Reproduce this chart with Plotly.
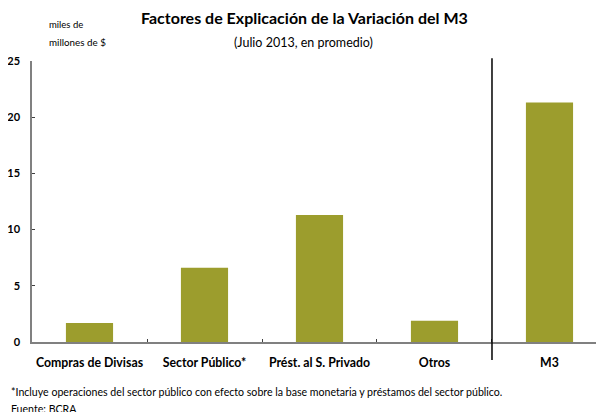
import plotly.graph_objects as go

categorias = ["Compras de Divisas", "Sector Público*", "Prést. al S. Privado", "Otros", "M3"]
valores = [1.7, 6.6, 11.3, 1.9, 21.3]
ticks_y = [0, 5, 10, 15, 20, 25]

fuente = "Lato"

fig = go.Figure()
fig.add_trace(go.Bar(
    x=categorias,
    y=valores,
    marker=dict(color="#9c9d2d", line=dict(width=0)),
    width=0.41,
))

# linea vertical que separa M3
fig.add_shape(type="line", xref="x", yref="paper",
              x0=3.5, x1=3.5, y0=-0.064, y1=1.01,
              line=dict(color="black", width=1.5))

# la pagina deja 8px de margen, por eso la figura es 596x404
fig.update_layout(
    width=596, height=404,
    margin=dict(l=24, r=0, t=53, b=70, autoexpand=False),
    paper_bgcolor="white", plot_bgcolor="white",
    showlegend=False,
    font=dict(family=fuente, color="black"),
    annotations=[
        dict(text="<b>Factores de Explicación de la Variación del M3</b>",
             x=304, y=18, showarrow=False, font=dict(size=16)),
        dict(text="(Julio 2013, en promedio)", x=303, y=42, showarrow=False,
             font=dict(size=12.5)),
        dict(text="miles de", x=47, y=25, showarrow=False, font=dict(size=9.5)),
        dict(text="millones de $", x=47, y=42, showarrow=False, font=dict(size=9.8)),
        dict(text="*Incluye operaciones del sector público con efecto sobre la base monetaria y préstamos del sector público.",
             x=9, y=392, xanchor="left", showarrow=False, font=dict(size=10.6)),
        dict(text="Fuente: BCRA", x=9, y=409, xanchor="left", showarrow=False,
             font=dict(size=10.6)),
    ],
)

# las anotaciones se colocan en pixeles de la imagen
for a in fig.layout.annotations:
    a.xref = "paper"
    a.yref = "paper"
    a.yanchor = "middle"
    a.x = (a.x - 32) / 572
    a.y = (342 - a.y) / 281

fig.update_xaxes(
    range=[-0.5, 4.474],
    showline=True, linecolor="#808080", linewidth=2,
    ticks="inside", tickson="boundaries", ticklen=3, tickcolor="#404040",
    tickfont=dict(size=12.3, family=fuente, weight="bold"),
    tickangle=0,
    ticklabelstandoff=8, automargin=False,
    showgrid=False, zeroline=False,
)
fig.update_yaxes(
    range=[0, 25], tickvals=ticks_y,
    showline=True, linecolor="#808080", linewidth=1.5,
    ticks="inside", ticklen=3, tickcolor="#404040",
    tickfont=dict(size=11, family=fuente, weight="bold"),
    ticklabelstandoff=8, automargin=False,
    showgrid=False, zeroline=False,
)

fig.write_html("out.html")
